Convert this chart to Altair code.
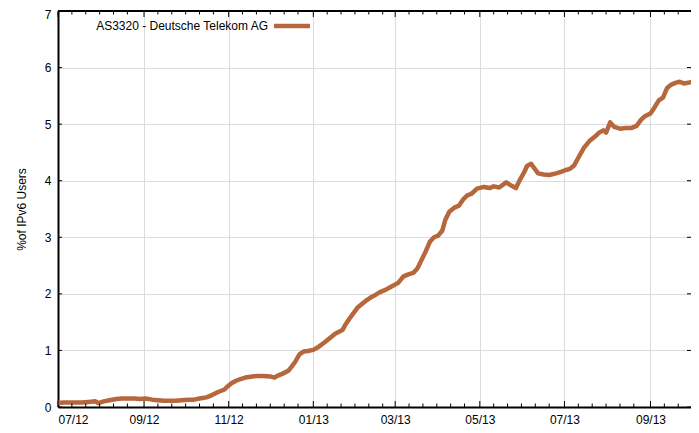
import altair as alt
import pandas as pd

# ---- data ----
dates = [
    "2012-07-01", "2012-07-05", "2012-07-10", "2012-07-14", "2012-07-18", "2012-07-23",
    "2012-07-28", "2012-07-30", "2012-08-03", "2012-08-07", "2012-08-12", "2012-08-16",
    "2012-08-20", "2012-08-25", "2012-08-29", "2012-09-02", "2012-09-07", "2012-09-11",
    "2012-09-15", "2012-09-20", "2012-09-24", "2012-09-28", "2012-10-03", "2012-10-07",
    "2012-10-11", "2012-10-16", "2012-10-20", "2012-10-24", "2012-10-29", "2012-10-31",
    "2012-11-03", "2012-11-06", "2012-11-09", "2012-11-13", "2012-11-18", "2012-11-22",
    "2012-11-26", "2012-12-01", "2012-12-04", "2012-12-06", "2012-12-10", "2012-12-14",
    "2012-12-16", "2012-12-19", "2012-12-22", "2012-12-25", "2012-12-28", "2013-01-01",
    "2013-01-04", "2013-01-09", "2013-01-13", "2013-01-17", "2013-01-22", "2013-01-24",
    "2013-01-27", "2013-01-30", "2013-02-02", "2013-02-05", "2013-02-08", "2013-02-11",
    "2013-02-14", "2013-02-18", "2013-02-22", "2013-02-27", "2013-03-03", "2013-03-07",
    "2013-03-11", "2013-03-14", "2013-03-17", "2013-03-20", "2013-03-23", "2013-03-26",
    "2013-03-29", "2013-04-01", "2013-04-04", "2013-04-06", "2013-04-09", "2013-04-13",
    "2013-04-16", "2013-04-19", "2013-04-22", "2013-04-25", "2013-04-29", "2013-05-04",
    "2013-05-08", "2013-05-11", "2013-05-15", "2013-05-20", "2013-05-24", "2013-05-27",
    "2013-05-30", "2013-06-02", "2013-06-04", "2013-06-07", "2013-06-09", "2013-06-12",
    "2013-06-16", "2013-06-20", "2013-06-25", "2013-06-29", "2013-07-02", "2013-07-05",
    "2013-07-08", "2013-07-12", "2013-07-15", "2013-07-19", "2013-07-23", "2013-07-26",
    "2013-07-29", "2013-07-31", "2013-08-03", "2013-08-06", "2013-08-10", "2013-08-14",
    "2013-08-18", "2013-08-22", "2013-08-25", "2013-08-28", "2013-09-01", "2013-09-04",
    "2013-09-07", "2013-09-10", "2013-09-13", "2013-09-16", "2013-09-19", "2013-09-22",
    "2013-09-25", "2013-09-28", "2013-10-01", "2013-10-03", "2013-10-05",
]
ipv6_pct = [
    0.07, 0.08, 0.08, 0.08, 0.08, 0.09,
    0.10, 0.07, 0.10, 0.12, 0.14, 0.15,
    0.15, 0.15, 0.14, 0.15, 0.13, 0.12,
    0.11, 0.11, 0.11, 0.12, 0.13, 0.13,
    0.15, 0.17, 0.21, 0.26, 0.31, 0.36,
    0.42, 0.46, 0.49, 0.52, 0.54, 0.55,
    0.55, 0.54, 0.52, 0.55, 0.59, 0.64,
    0.70, 0.80, 0.93, 0.98, 0.99, 1.01,
    1.05, 1.14, 1.22, 1.30, 1.36, 1.45,
    1.56, 1.66, 1.76, 1.82, 1.88, 1.93,
    1.97, 2.03, 2.07, 2.14, 2.19, 2.31,
    2.35, 2.37, 2.45, 2.60, 2.75, 2.92,
    3.00, 3.03, 3.12, 3.30, 3.45, 3.53,
    3.56, 3.67, 3.74, 3.77, 3.86, 3.89,
    3.87, 3.90, 3.88, 3.97, 3.91, 3.87,
    4.02, 4.15, 4.26, 4.30, 4.23, 4.13,
    4.11, 4.10, 4.13, 4.16, 4.19, 4.21,
    4.27, 4.45, 4.58, 4.70, 4.78, 4.85,
    4.89, 4.85, 5.03, 4.95, 4.92, 4.93,
    4.93, 4.97, 5.07, 5.14, 5.19, 5.30,
    5.42, 5.47, 5.64, 5.70, 5.73, 5.75,
    5.72, 5.73, 5.75, 5.83, 5.74,
]
series_label = "AS3320 - Deutsche Telekom AG"
y_title = "%of IPv6 Users"
major_months = [(2012, 7), (2012, 9), (2012, 11), (2013, 1), (2013, 3), (2013, 5), (2013, 7), (2013, 9)]
minor_offsets_days = [10, 20, 30, 40, 50]
y_ticks = [0, 1, 2, 3, 4, 5, 6, 7]

# ---- layout / style ----
W, H = 633, 396
LINE_COLOR = "#b6673c"
FONT = "Liberation Sans"
FS = 12

df = pd.DataFrame({"date": dates, "pct": ipv6_pct})

major_dates = [pd.Timestamp(year=y, month=m, day=1) for y, m in major_months]
end_date = pd.Timestamp("2013-09-30")
minor_dates = []
for d in major_dates:
    for off in minor_offsets_days:
        t = d + pd.Timedelta(days=off)
        if t <= end_date:
            minor_dates.append(t)
# same field names as the main layer so the axes merge cleanly
major_df = pd.DataFrame({"date": [d.strftime("%Y-%m-%d") for d in major_dates]})
minor_df = pd.DataFrame({"date": [d.strftime("%Y-%m-%d") for d in minor_dates]})
yt_df = pd.DataFrame({"pct": y_ticks})

x_scale = alt.Scale(
    type="utc",
    domain=[alt.DateTime(year=2012, month=7, date=1, utc=True),
            alt.DateTime(year=2013, month=9, date=30, hours=5, utc=True)],
)
y_scale = alt.Scale(domain=[0, 7])

x_axis = alt.Axis(
    values=[alt.DateTime(year=d.year, month=d.month, date=1, utc=True) for d in major_dates],
    format="%m/%y", title=None, ticks=False, grid=True, gridColor="#dcdcdc", gridWidth=1,
    domain=True, domainColor="black", domainWidth=2, labelPadding=7,
    labelFont=FONT, labelFontSize=FS, labelColor="black",
)
y_axis = alt.Axis(
    values=y_ticks, format="d", title=y_title, ticks=False, grid=True, gridColor="#dcdcdc",
    gridWidth=1, domain=True, domainColor="black", domainWidth=2, labelPadding=7,
    labelOffset={"condition": {"test": "datum.value == 7", "value": 3}, "value": 0},
    labelFont=FONT, labelFontSize=FS, labelColor="black",
    titleFont=FONT, titleFontSize=FS, titleFontWeight="normal", titleColor="black",
    titleX=-37, titleY=H / 2, titleBaseline="middle", titleAlign="center",
)

line = alt.Chart(df).mark_line(
    color=LINE_COLOR, strokeWidth=4.5, strokeJoin="round", strokeCap="round", clip=True
).encode(
    x=alt.X("date:T", scale=x_scale, axis=x_axis),
    y=alt.Y("pct:Q", scale=y_scale, axis=y_axis),
)

def xticks(data, length, top):
    if top:
        ys = dict(y=alt.value(0), y2=alt.value(length))
    else:
        ys = dict(y=alt.value(H), y2=alt.value(H - length))
    return alt.Chart(data).mark_rule(color="black", strokeWidth=1).encode(
        x=alt.X("date:T", scale=x_scale), **ys
    )

def yticks(length, right):
    if right:
        xs = dict(x=alt.value(W), x2=alt.value(W - length))
    else:
        xs = dict(x=alt.value(0), x2=alt.value(length))
    return alt.Chart(yt_df).mark_rule(color="black", strokeWidth=1).encode(
        y=alt.Y("pct:Q", scale=y_scale), **xs
    )

one = yt_df.head(1)
top_border = alt.Chart(one).mark_rule(color="black", strokeWidth=2).encode(
    x=alt.value(0), x2=alt.value(W), y=alt.value(0)
)

legend_text = alt.Chart(one).mark_text(
    align="right", baseline="middle", font=FONT, fontSize=FS, color="black"
).encode(x=alt.value(210), y=alt.value(15), text=alt.value(series_label))

legend_line = alt.Chart(one).mark_rule(color=LINE_COLOR, strokeWidth=4.5).encode(
    x=alt.value(216), x2=alt.value(252), y=alt.value(15)
)

chart = alt.layer(
    line,
    xticks(major_df, 6, False), xticks(minor_df, 3.5, False),
    xticks(major_df, 6, True), xticks(minor_df, 3.5, True),
    yticks(4, False), yticks(4, True),
    top_border, legend_text, legend_line,
).properties(
    width=W, height=H,
    autosize=alt.AutoSizeParams(type="none"),
    padding={"left": 50, "top": 3, "right": 0, "bottom": 18},
).configure_view(stroke=None).configure(background="white")

chart.save("out.html", embed_options={"renderer": "svg", "actions": False})
